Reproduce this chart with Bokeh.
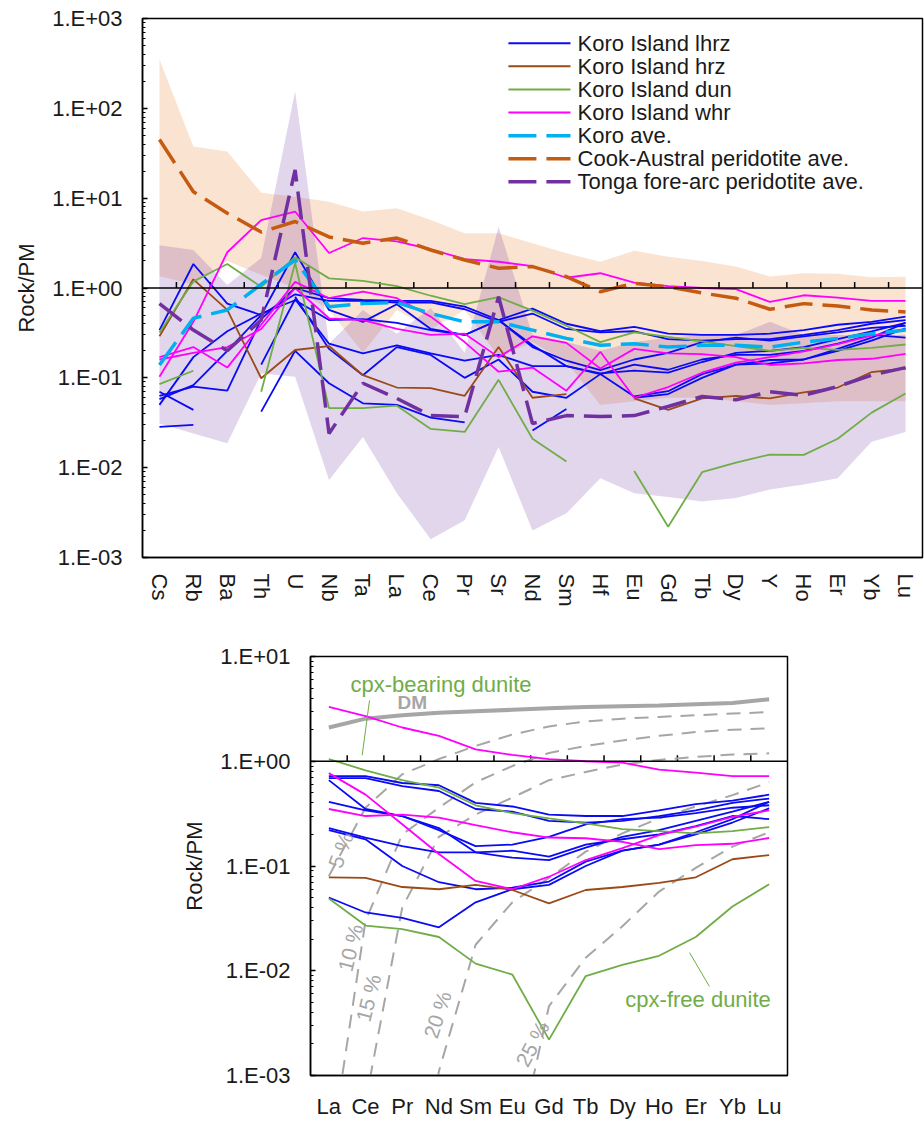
import math
from bokeh.plotting import figure
from bokeh.models import Range1d, FixedTicker, CustomJSTickFormatter, Span
from bokeh.core.properties import value
from bokeh.embed import file_html
from bokeh.resources import INLINE

nan = float("nan")

# ---------------------------------------------------------------- data
elements = ["Cs", "Rb", "Ba", "Th", "U", "Nb", "Ta", "La", "Ce", "Pr", "Sr", "Nd",
            "Sm", "Hf", "Eu", "Gd", "Tb", "Dy", "Y", "Ho", "Er", "Yb", "Lu"]
ree = ["La", "Ce", "Pr", "Nd", "Sm", "Eu", "Gd", "Tb", "Dy", "Ho", "Er", "Yb", "Lu"]

# Koro Island lherzolites
lhrz_1 = [0.063, 0.08, 0.072, 0.45, 1.0, 0.77, 0.735, 0.72, 0.72, 0.62, 0.44, 0.59, 0.40, 0.33, 0.37, 0.31, 0.30, 0.30, 0.31, 0.34, 0.39, 0.42, 0.48]
lhrz_2 = [0.058, 0.083, 0.2, 0.5, 0.85, 0.72, 0.72, 0.69, 0.69, 0.58, 0.42, 0.52, 0.35, 0.32, 0.33, 0.27, 0.26, 0.27, 0.27, 0.30, 0.34, 0.40, 0.44]
lhrz_3 = [0.34, 1.85, 0.67, 0.5, 2.5, 0.57, 0.42, 0.66, 0.35, 0.30, 0.44, 0.23, 0.135, 0.112, 0.12, 0.114, 0.15, 0.19, 0.20, 0.22, 0.27, 0.33, 0.41]
lhrz_4 = [0.05, 0.17, 0.33, 0.52, 0.73, 0.44, 0.45, 0.41, 0.34, 0.30, 0.44, 0.22, 0.155, 0.122, 0.16, 0.19, 0.25, 0.28, 0.26, 0.29, 0.32, 0.36, 0.38]
lhrz_5 = [0.07, 0.044, nan, nan, 0.8, 0.21, 0.107, 0.22, 0.18, 0.10, 0.16, 0.07, 0.06, 0.11, 0.062, 0.071, 0.11, 0.14, 0.158, 0.16, 0.20, 0.26, 0.355]
lhrz_6 = [nan, nan, nan, 0.14, 0.75, 0.24, 0.187, 0.23, 0.187, 0.155, 0.18, 0.135, 0.135, 0.11, 0.14, 0.123, 0.16, 0.18, 0.18, 0.20, 0.24, 0.30, 0.28]
lhrz_7 = [0.0285, 0.03, nan, 0.042, 0.2, 0.087, 0.052, 0.05, 0.036, 0.032, nan, 0.026, 0.045, nan, 0.06, 0.066, 0.10, 0.14, 0.145, 0.16, 0.21, 0.28, 0.41]
# Koro Island harzburgite
hrz_1 = [0.29, 1.25, 0.57, 0.099, 0.204, 0.226, 0.107, 0.078, 0.077, 0.063, 0.22, 0.06, 0.066, nan, 0.059, 0.044, 0.059, 0.063, 0.059, 0.069, 0.078, 0.116, 0.127]
# Koro Island dunites (cpx-bearing, cpx-free)
dun_1 = [0.32, 1.18, 1.85, 1.03, 2.2, 1.28, 1.2, 1.05, 0.82, 0.66, 0.79, 0.56, 0.38, 0.25, 0.32, 0.285, 0.255, 0.225, 0.20, 0.215, 0.205, 0.215, 0.235]
dun_2 = [0.085, 0.12, nan, 0.07, 1.9, 0.046, 0.046, 0.049, 0.027, 0.025, 0.095, 0.021, 0.0117, nan, 0.0092, 0.0022, 0.0089, 0.0114, 0.014, 0.0139, 0.021, 0.041, 0.067]
# Koro Island wehrlites
whr_1 = [0.103, 0.42, 2.5, 5.7, 7.1, 2.45, 3.6, 3.3, 2.7, 2.1, 1.96, 1.75, 1.3, 1.46, 1.15, 1.05, 1.0, 0.97, 0.70, 0.83, 0.78, 0.72, 0.72]
whr_2 = [0.17, 0.22, 0.13, 0.39, 1.17, 0.77, 0.91, 0.77, 0.48, 0.25, 0.117, 0.13, 0.072, 0.195, 0.06, 0.079, 0.114, 0.148, 0.17, 0.197, 0.237, 0.295, 0.34]
whr_3 = [0.16, 0.19, 0.22, 0.35, 1.0, 0.46, 0.44, 0.35, 0.30, 0.31, 0.17, 0.29, 0.245, 0.127, 0.21, 0.187, 0.184, 0.17, 0.139, 0.145, 0.158, 0.163, 0.185]

koro_ave = [0.139, 0.46, 0.57, 1.1, 2.05, 0.62, 0.67, 0.69, 0.52, 0.42, 0.42, 0.34, 0.275, 0.23, 0.24, 0.22, 0.23, 0.23, 0.22, 0.25, 0.275, 0.31, 0.34]
cook_ave = [45, 11.8, 6.8, 4.2, 5.5, 3.7, 3.15, 3.6, 2.65, 2.05, 1.66, 1.73, 1.34, 0.91, 1.13, 1.03, 0.88, 0.77, 0.58, 0.67, 0.63, 0.57, 0.54]
tonga_ave = [0.67, 0.34, 0.2, 0.44, 20.6, 0.024, 0.087, 0.059, 0.038, 0.037, 0.8, 0.031, 0.038, 0.037, 0.038, 0.048, 0.062, 0.057, 0.07, 0.064, 0.08, 0.107, 0.13]

cook_max = [350, 37.6, 33, 11.5, 10.4, 9.1, 7.1, 7.7, 5.7, 4.06, 4.06, 3.15, 2.43, 1.96, 2.6, 2.23, 2.0, 1.73, 1.34, 1.46, 1.44, 1.32, 1.33]
cook_min = [1.35, 1.1, 2.0, 1.4, 1.0, 0.57, 0.19, 0.57, 0.35, 0.57, 0.17, 0.25, 0.15, 0.05, 0.055, 0.06, 0.06, 0.055, 0.05, 0.052, 0.055, 0.055, 0.055]
tonga_max = [3.0, 2.65, 1.08, 2.16, 155, 0.24, 0.57, 0.31, 0.6, 0.19, 4.8, 0.3, 0.25, 0.2, 0.25, 0.28, 0.3, 0.3, 0.42, 0.3, 0.3, 0.3, 0.3]
tonga_min = [0.031, 0.024, 0.0187, 0.112, 0.103, 0.0073, 0.022, 0.0052, 0.0016, 0.0026, 0.017, 0.002, 0.0031, 0.0076, 0.0052, 0.0047, 0.0042, 0.0046, 0.0057, 0.0065, 0.0076, 0.0194, 0.025]

# depleted mantle and its melting residues (REE only)
dm = [2.1, 2.55, 2.75, 2.9, 3.0, 3.1, 3.2, 3.3, 3.35, 3.4, 3.5, 3.6, 3.9]
melt_5 = [0.08, 0.36, 0.75, 1.05, 1.4, 1.8, 2.15, 2.4, 2.55, 2.65, 2.75, 2.85, 2.95]
melt_10 = [1.4e-4, 0.03, 0.2, 0.36, 0.63, 0.9, 1.2, 1.4, 1.58, 1.75, 1.9, 2.0, 2.06]
melt_15 = [nan, 5.6e-4, 0.04, 0.19, 0.31, 0.45, 0.66, 0.79, 0.93, 1.03, 1.1, 1.16, 1.19]
melt_20 = [nan, nan, 1e-5, 0.0011, 0.0177, 0.045, 0.077, 0.137, 0.205, 0.285, 0.37, 0.475, 0.63]
melt_25 = [nan, nan, nan, nan, nan, 1.2e-4, 0.0046, 0.0133, 0.0266, 0.057, 0.096, 0.153, 0.21]
melt_labels = ["5 %", "10 %", "15 %", "20 %", "25 %"]

legend_labels = ["Koro Island lhrz", "Koro Island hrz", "Koro Island dun", "Koro Island whr",
                 "Koro ave.", "Cook-Austral peridotite ave.", "Tonga fore-arc peridotite ave."]

# ---------------------------------------------------------------- style
FONT = "Liberation Sans"
BLUE, BROWN, GREEN, MAGENTA = "#0A0AF5", "#9A4A17", "#70AD47", "#FF00FF"
CYAN, ORANGE, PURPLE, GREY = "#00B0F0", "#C55A11", "#7030A0", "#A6A6A6"
DASH = "28 10"

lhrz = [lhrz_1, lhrz_2, lhrz_3, lhrz_4, lhrz_5, lhrz_6, lhrz_7]
hrz = [hrz_1]
dun = [dun_1, dun_2]
whr = [whr_1, whr_2, whr_3]

LOG_FMT = CustomJSTickFormatter(code="""
    const e = Math.round(Math.log10(tick));
    const a = Math.abs(e);
    return "1.E" + (e < 0 ? "-" : "+") + (a < 10 ? "0" + a : "" + a);
""")


def log_ticker(lo, hi):
    major = [10.0 ** k for k in range(lo, hi + 1)]
    minor = [m * 10.0 ** k for k in range(lo, hi) for m in range(2, 10)]
    return FixedTicker(ticks=major, minor_ticks=minor)


def style_axes(p, names, px_per_decade, lo, hi, vertical):
    p.grid.visible = False
    p.outline_line_color = "black"
    p.outline_line_width = 1.5
    p.background_fill_color = "white"
    p.border_fill_color = "white"

    xa = p.xaxis[0]
    xa.ticker = FixedTicker(ticks=list(range(len(names))))
    xa.major_label_overrides = {i: n for i, n in enumerate(names)}
    xa.major_tick_line_color = None
    xa.minor_tick_line_color = None
    xa.axis_line_color = "black"
    xa.axis_line_width = 1.5
    xa.major_label_text_font = FONT
    xa.major_label_text_font_size = "22px"
    xa.major_label_text_color = "#1a1a1a"
    if vertical:
        xa.major_label_orientation = "vertical"
        xa.major_label_standoff = 10
    else:
        xa.major_label_standoff = 12

    ya = p.yaxis[0]
    ya.ticker = log_ticker(lo, hi)
    ya.formatter = LOG_FMT
    ya.axis_line_color = "black"
    ya.axis_line_width = 1.5
    ya.major_tick_in = 5
    ya.major_tick_out = 0
    ya.minor_tick_in = 3
    ya.minor_tick_out = 0
    ya.major_tick_line_width = 1.5
    ya.major_label_text_font = FONT
    ya.major_label_text_font_size = "22px"
    ya.major_label_text_color = "#1a1a1a"
    ya.major_label_standoff = 20
    ya.axis_label = "Rock/PM"
    ya.axis_label_text_font = FONT
    ya.axis_label_text_font_size = "22px"
    ya.axis_label_text_font_style = "normal"
    ya.axis_label_text_color = "#1a1a1a"
    ya.axis_label_standoff = 10

    # black reference line at Rock/PM = 1 with short upward ticks between columns
    p.add_layout(Span(location=1.0, dimension="width", line_color="black", line_width=1.5))
    bounds = [i + 0.5 for i in range(len(names) - 1)]
    top = 10 ** (6.0 / px_per_decade)
    p.segment(x0=bounds, x1=bounds, y0=[1.0] * len(bounds), y1=[top] * len(bounds),
              line_color="black", line_width=1.5)


# ---------------------------------------------------------------- spider diagram
xs = list(range(len(elements)))
p1 = figure(width=924, height=612, y_axis_type="log",
            x_range=Range1d(-0.5, len(elements) - 0.5), y_range=Range1d(1e-3, 1e3),
            output_backend="svg", toolbar_location=None,
            min_border_left=142, min_border_right=2, min_border_top=18, min_border_bottom=55)

p1.varea(x=xs, y1=cook_min, y2=cook_max, fill_color="#F4B183", fill_alpha=0.36)
p1.varea(x=xs, y1=tonga_min, y2=tonga_max, fill_color=PURPLE, fill_alpha=0.2)
style_axes(p1, elements, 89.8, -3, 3, True)

for group, color in [(lhrz, BLUE), (hrz, BROWN), (dun, GREEN), (whr, MAGENTA)]:
    for vals in group:
        p1.line(xs, vals, line_color=color, line_width=1.8)

p1.line(xs, koro_ave, line_color=CYAN, line_width=3.5, line_dash=DASH)
p1.line(xs, cook_ave, line_color=ORANGE, line_width=3.5, line_dash=DASH)
p1.line(xs, tonga_ave, line_color=PURPLE, line_width=3.5, line_dash=DASH)

# key: one row per series, 23 px apart, placed in the upper right of the frame
PX_DEC = 89.8
row_v = [10 ** ((270.0 - 25.3 - 23.1 * k) / PX_DEC) for k in range(len(legend_labels))]
key_x0, key_x1, key_tx = 10.29, 12.12, 12.33
solid_colors = [BLUE, BROWN, GREEN, MAGENTA]
p1.segment(x0=[key_x0] * 4, x1=[key_x1] * 4, y0=row_v[:4], y1=row_v[:4],
           line_color=solid_colors, line_width=2)
for k, color in zip(range(4, 7), [CYAN, ORANGE, PURPLE]):
    p1.segment(x0=[key_x0], x1=[key_x1], y0=[row_v[k]], y1=[row_v[k]],
               line_color=color, line_width=3.5, line_dash=DASH)
p1.text(x=[key_tx] * len(legend_labels), y=row_v, text=legend_labels,
        text_color="#1a1a1a", text_font=value(FONT), text_font_size=value("22px"),
        text_align="left", text_baseline="middle")

# ---------------------------------------------------------------- REE diagram
ree_idx = [elements.index(e) for e in ree]
xr = list(range(len(ree)))
p2 = figure(width=924, height=509, y_axis_type="log",
            x_range=Range1d(-0.5, len(ree) - 0.5), y_range=Range1d(1e-3, 1e1),
            output_backend="svg", toolbar_location=None,
            min_border_left=310, min_border_right=137, min_border_top=44, min_border_bottom=45)
style_axes(p2, ree, 105.0, -3, 1, False)

for curve in [melt_5, melt_10, melt_15, melt_20, melt_25]:
    p2.line(xr, curve, line_color=GREY, line_width=2, line_dash="14 9")
p2.line(xr, dm, line_color=GREY, line_width=4)

for group, color in [(lhrz, BLUE), (hrz, BROWN), (dun, GREEN), (whr, MAGENTA)]:
    for vals in group:
        p2.line(xr, [vals[i] for i in ree_idx], line_color=color, line_width=1.8)

p2.text(x=[1.87], y=[3.65], text=["DM"], text_color=GREY, text_font=value(FONT),
        text_font_size=value("19px"), text_font_style="bold",
        text_align="left", text_baseline="middle")
p2.text(x=[0.59, 8.08], y=[5.4, 0.0053], text=["cpx-bearing dunite", "cpx-free dunite"],
        text_color=GREEN, text_font=value(FONT), text_font_size=value("22px"),
        text_align="left", text_baseline="middle")
p2.segment(x0=[1.108, 9.83], y0=[3.81, 0.0149], x1=[0.909, 10.37], y1=[1.14, 0.0071],
           line_color=GREEN, line_width=1)
p2.text(x=[0.32, 0.59, 1.08, 2.96, 5.55], y=[0.142, 0.0166, 0.0055, 0.0038, 0.002],
        text=melt_labels,
        angle=[math.radians(a) for a in (70, 76, 76, 72, 62)],
        text_color=GREY, text_font=value(FONT), text_font_size=value("21px"),
        text_align="center", text_baseline="middle")

# two independent roots, stacked one above the other
open("out.html", "w").write(file_html([p1, p2], INLINE))
